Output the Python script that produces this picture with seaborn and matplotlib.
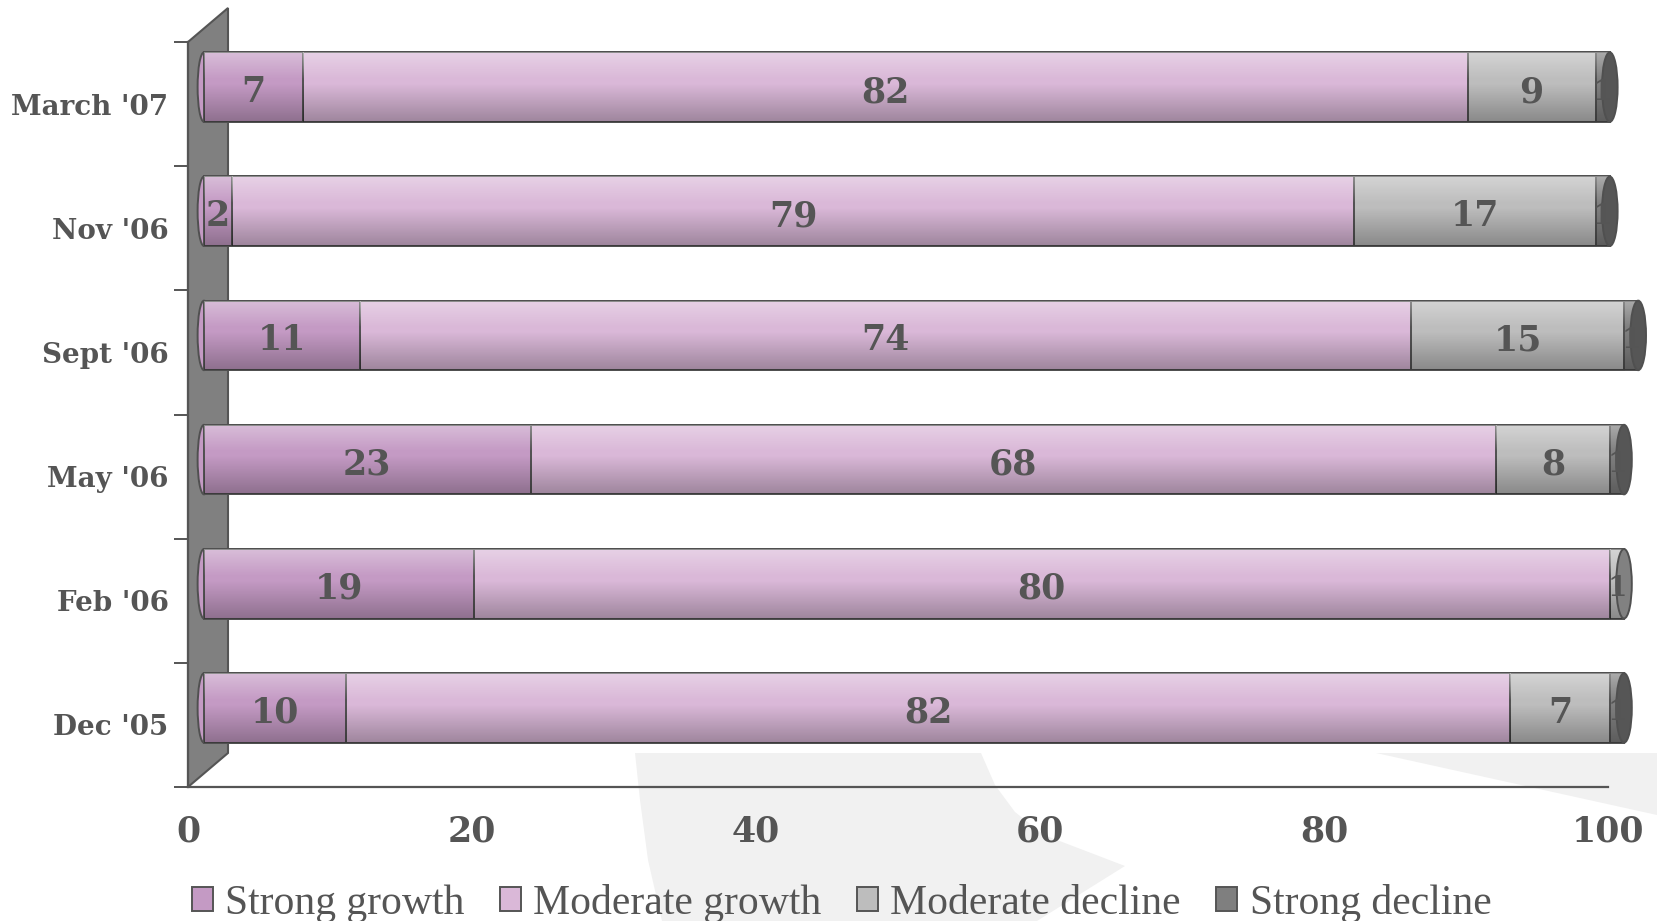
import numpy as np
import pandas as pd
import matplotlib
matplotlib.use("Agg")
import matplotlib.pyplot as plt
import seaborn as sns
from matplotlib.transforms import ScaledTranslation
from matplotlib.patches import Polygon, Ellipse, Patch
import matplotlib.colors as mcolors

# ---------------- data ----------------
categories = ["March '07", "Nov '06", "Sept '06", "May '06", "Feb '06", "Dec '05"]
strong_growth = [7, 2, 11, 23, 19, 10]
moderate_growth = [82, 79, 74, 68, 80, 82]
moderate_decline = [9, 17, 15, 8, 1, 7]
strong_decline = [1, 1, 1, 1, 0, 1]
series_names = ["Strong growth", "Moderate growth", "Moderate decline", "Strong decline"]
x_ticks = [0, 20, 40, 60, 80, 100]

# ---------------- style ----------------
colors = ["#C49AC4", "#DAB8D8", "#BDBDBD", "#7F7F7F"]
text_col = "#555555"
edge_col = "#505050"
bold_font = ["DejaVu Serif"]

sns.set_style("white")
plt.rcParams["font.family"] = ["Liberation Serif", "DejaVu Serif"]

W, H = 1657, 921
fig = plt.figure(figsize=(W / 100, H / 100), dpi=100)
fig.patch.set_facecolor("white")

ax_l, ax_r, ax_t, ax_b = 188, 1608, 42, 787
ax = fig.add_axes([ax_l / W, 1 - ax_b / H, (ax_r - ax_l) / W, (ax_b - ax_t) / H])
ax.set_facecolor("none")

# watermark shapes (decorative)
def fpoly(pts, **kw):
    p = Polygon([(x / W, 1 - y / H) for x, y in pts], closed=True,
                transform=fig.transFigure, **kw)
    fig.patches.append(p)

fpoly([(635, 753), (981, 753), (995, 785), (1015, 812), (1044, 835), (1125, 866),
       (1037, 921), (662, 921), (648, 860), (640, 800)],
      facecolor="#F1F1F1", edgecolor="none", zorder=-5)
fpoly([(1376, 753), (1657, 753), (1657, 815)], facecolor="#F1F1F1",
      edgecolor="none", zorder=-5)

# left 3D wall
depth_x, depth_y = 40, 34
fpoly([(ax_l, ax_b), (ax_l, ax_t), (ax_l + depth_x, ax_t - depth_y),
       (ax_l + depth_x, ax_b - depth_y)],
      facecolor="#808080", edgecolor="#555555", linewidth=1.5, zorder=-1)

# ---------------- bars ----------------
df = pd.DataFrame({"cat": categories, "Strong growth": strong_growth,
                   "Moderate growth": moderate_growth,
                   "Moderate decline": moderate_decline,
                   "Strong decline": strong_decline})
vals = df[series_names].to_numpy(dtype=float)
cum = np.cumsum(vals, axis=1)

offset = ax.transData + ScaledTranslation(16 / 100, 17 / 100, fig.dpi_scale_trans)
label_offset = ax.transData + ScaledTranslation(16 / 100, 12 / 100, fig.dpi_scale_trans)
bar_h = 0.56

seg_patches = {}
for k in range(len(series_names) - 1, -1, -1):
    n_before = len(ax.patches)
    plot_df = pd.DataFrame({"cat": categories, "val": cum[:, k]})
    sns.barplot(data=plot_df, y="cat", x="val", order=categories, orient="h",
                color=colors[k], saturation=1, width=bar_h, edgecolor=edge_col,
                linewidth=1.4, ax=ax, zorder=2)
    seg_patches[k] = ax.patches[n_before:]

# gradient array: light top, darker bottom
n = 64
t = np.linspace(0, 1, n)
grad = np.zeros((n, 1, 4))
light = np.clip(0.35 - 0.9 * t, 0, 1)
dark = np.clip((t - 0.45) * 0.5, 0, 1)
grad[:, 0, :3] = np.where(light[:, None] > 0, 1.0, 0.0)
grad[:, 0, 3] = np.maximum(light, dark)

for k in range(len(series_names)):
    for i, p in enumerate(seg_patches[k]):
        p.set_transform(offset)
        p.set_clip_on(False)
        start = cum[i, k] - vals[i, k]
        if vals[i, k] <= 0:
            p.set_visible(False)
            continue
        y0, hh = p.get_y(), p.get_height()
        im = ax.imshow(grad, extent=(start, cum[i, k], y0 + hh, y0), origin="upper",
                       aspect="auto", interpolation="bilinear", zorder=3)
        im.set_transform(offset)
        im.set_clip_path(p)

# cylinder caps
for i in range(len(categories)):
    yc = i
    nz = [k for k in range(4) if vals[i, k] > 0]
    first, last = nz[0], nz[-1]
    e1 = Ellipse((0, yc), 0.9, bar_h, facecolor=colors[first],
                 edgecolor=edge_col, linewidth=1.4, transform=offset, zorder=1)
    e1.set_clip_on(False)
    ax.add_patch(e1)
    dcol = tuple(np.array(mcolors.to_rgb(colors[last])) * 0.68)
    e2 = Ellipse((cum[i, -1], yc), 1.1, bar_h, facecolor=dcol,
                 edgecolor=edge_col, linewidth=1.4, transform=offset, zorder=4)
    e2.set_clip_on(False)
    ax.add_patch(e2)

# value labels
for i in range(len(categories)):
    for k in range(4):
        v = vals[i, k]
        if v <= 0:
            continue
        xc = cum[i, k] - v / 2
        fs = 25 if v >= 2 else 20
        ax.text(xc, i, f"{int(v)}", ha="center", va="center", fontsize=fs,
                fontweight="bold", family=bold_font, color=text_col,
                transform=label_offset, zorder=6)

# ---------------- axes ----------------
ax.set_xlim(0, 100)
ax.set_ylim(len(categories) - 0.5, -0.5)
ax.set_xticks(x_ticks)
ax.set_xticklabels([str(x) for x in x_ticks])
ax.set_ylabel("")
ax.set_xlabel("")
ax.set_yticks(range(len(categories)))
ax.set_yticklabels(categories)
ax.set_yticks(np.arange(-0.5, len(categories)), minor=True)

for s in ["top", "right"]:
    ax.spines[s].set_visible(False)
ax.spines["bottom"].set_color("#555555")
ax.spines["bottom"].set_linewidth(1.6)
ax.spines["left"].set_color("#555555")
ax.spines["left"].set_linewidth(1.6)

ax.tick_params(axis="x", which="major", direction="out", length=10, width=1.4,
               color="#555555", pad=10, labelsize=25, labelcolor=text_col)
ax.tick_params(axis="y", which="major", length=0, pad=14, labelsize=20,
               labelcolor=text_col)
ax.tick_params(axis="y", which="minor", direction="out", length=10, width=1.4,
               color="#555555", left=True)
for lab in ax.get_xticklabels() + ax.get_yticklabels():
    lab.set_fontweight("bold")
    lab.set_family(bold_font)

# ---------------- legend ----------------
handles = [Patch(facecolor=c, edgecolor="#555555", linewidth=1.4) for c in colors]
leg = fig.legend(handles, series_names, loc="center", bbox_to_anchor=(0.508, 1 - 903 / H),
                 ncol=4, frameon=False, fontsize=30, handlelength=0.5,
                 handleheight=0.5, handletextpad=0.3, columnspacing=0.85,
                 borderaxespad=0)
for txt in leg.get_texts():
    txt.set_color(text_col)

fig.savefig("out.png", dpi=100)
